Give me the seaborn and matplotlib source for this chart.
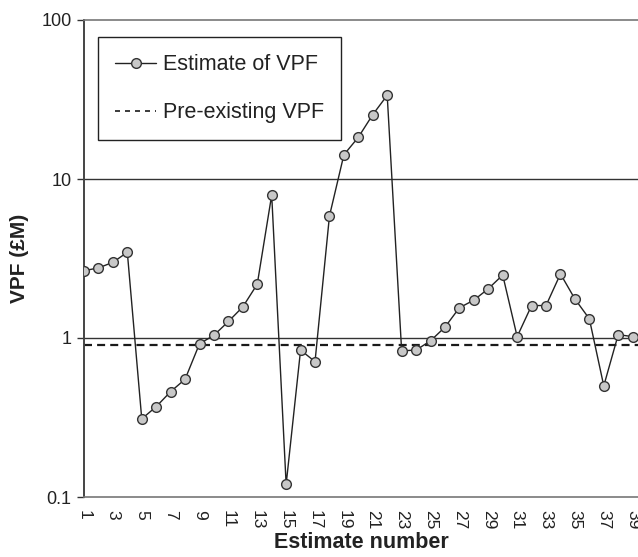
import numpy as np
import pandas as pd
import matplotlib
matplotlib.use("Agg")
import matplotlib.pyplot as plt
import seaborn as sns
from matplotlib.lines import Line2D

# ---- data ----
estimate_number = list(range(1, 40))
vpf_estimates = [2.65, 2.76, 2.99, 3.46, 0.31, 0.37, 0.46, 0.55, 0.92, 1.04,
                 1.27, 1.57, 2.18, 7.93, 0.12, 0.84, 0.71, 5.85, 14.2, 18.3,
                 25.4, 33.6, 0.83, 0.84, 0.96, 1.17, 1.55, 1.73, 2.04, 2.49,
                 1.02, 1.60, 1.60, 2.53, 1.76, 1.32, 0.50, 1.05, 1.02]
pre_existing_vpf = 0.91
y_ticks = [0.1, 1, 10, 100]
y_tick_labels = ["0.1", "1", "10", "100"]
x_ticks = list(range(1, 40, 2))
legend_labels = ["Estimate of VPF", "Pre-existing VPF"]

df = pd.DataFrame({"Estimate number": estimate_number, "VPF": vpf_estimates})

sns.set_style("white")
plt.rcParams["font.family"] = ["Liberation Sans", "DejaVu Sans"]

W, H = 638, 557
fig = plt.figure(figsize=(W / 100, H / 100), dpi=100)
ax = fig.add_axes([84 / W, 1 - 497 / H, (638 - 84) / W, (497 - 20) / H])

ax.set_yscale("log")
ax.set_ylim(0.1, 100)
ax.set_xlim(1, 39.37)

# gridlines at decades
for v in [1, 10]:
    ax.axhline(v, color="#333333", lw=1.0, zorder=1)

# pre-existing VPF dashed line
ax.axhline(pre_existing_vpf, color="#1a1a1a", lw=1.6,
           linestyle=(0, (3.6, 2.3)), zorder=2)

sns.lineplot(data=df, x="Estimate number", y="VPF", ax=ax,
             color="#222222", lw=1.0, marker="o", markersize=7,
             markerfacecolor="#c8c8c8", markeredgecolor="#333333",
             markeredgewidth=1.0, zorder=3, legend=False)

ax.set_yticks(y_ticks)
ax.set_yticklabels(y_tick_labels)
ax.yaxis.set_minor_locator(matplotlib.ticker.NullLocator())
ax.set_xticks(x_ticks)
ax.set_xticklabels([str(t) for t in x_ticks], rotation=-90)

ax.tick_params(axis="y", which="major", direction="out", length=5, width=1.0,
               color="#333333", labelsize=13, labelcolor="#222222", pad=4, left=True)
ax.tick_params(axis="x", which="major", length=0, labelsize=12.5,
               labelcolor="#222222", pad=9)

for s in ["left"]:
    ax.spines[s].set_color("#444444")
    ax.spines[s].set_linewidth(1.4)
ax.spines["bottom"].set_color("#777777")
ax.spines["bottom"].set_linewidth(1.2)
ax.spines["top"].set_color("#777777")
ax.spines["top"].set_linewidth(1.2)
ax.spines["right"].set_visible(False)

ax.set_xlabel("Estimate number", fontsize=15.5, fontweight="bold",
              color="#222222", labelpad=2)
ax.set_ylabel("VPF (£M)", fontsize=15, fontweight="bold",
              color="#222222", labelpad=9)

handles = [
    Line2D([], [], color="#222222", lw=1.0, marker="o", markersize=7,
           markerfacecolor="#c8c8c8", markeredgecolor="#333333"),
    Line2D([], [], color="#1a1a1a", lw=1.2, linestyle=(0, (3, 3))),
]
leg = ax.legend(handles, legend_labels, loc="upper left",
                bbox_to_anchor=(14 / 554, 1 - 17 / 477), borderaxespad=0,
                fontsize=15.5, frameon=True, fancybox=False, framealpha=1,
                edgecolor="#222222", handlelength=1.9, handletextpad=0.3,
                borderpad=0.8, labelspacing=1.25)
leg.get_frame().set_linewidth(1.0)
for t in leg.get_texts():
    t.set_color("#222222")

fig.savefig("out.png", dpi=100)
